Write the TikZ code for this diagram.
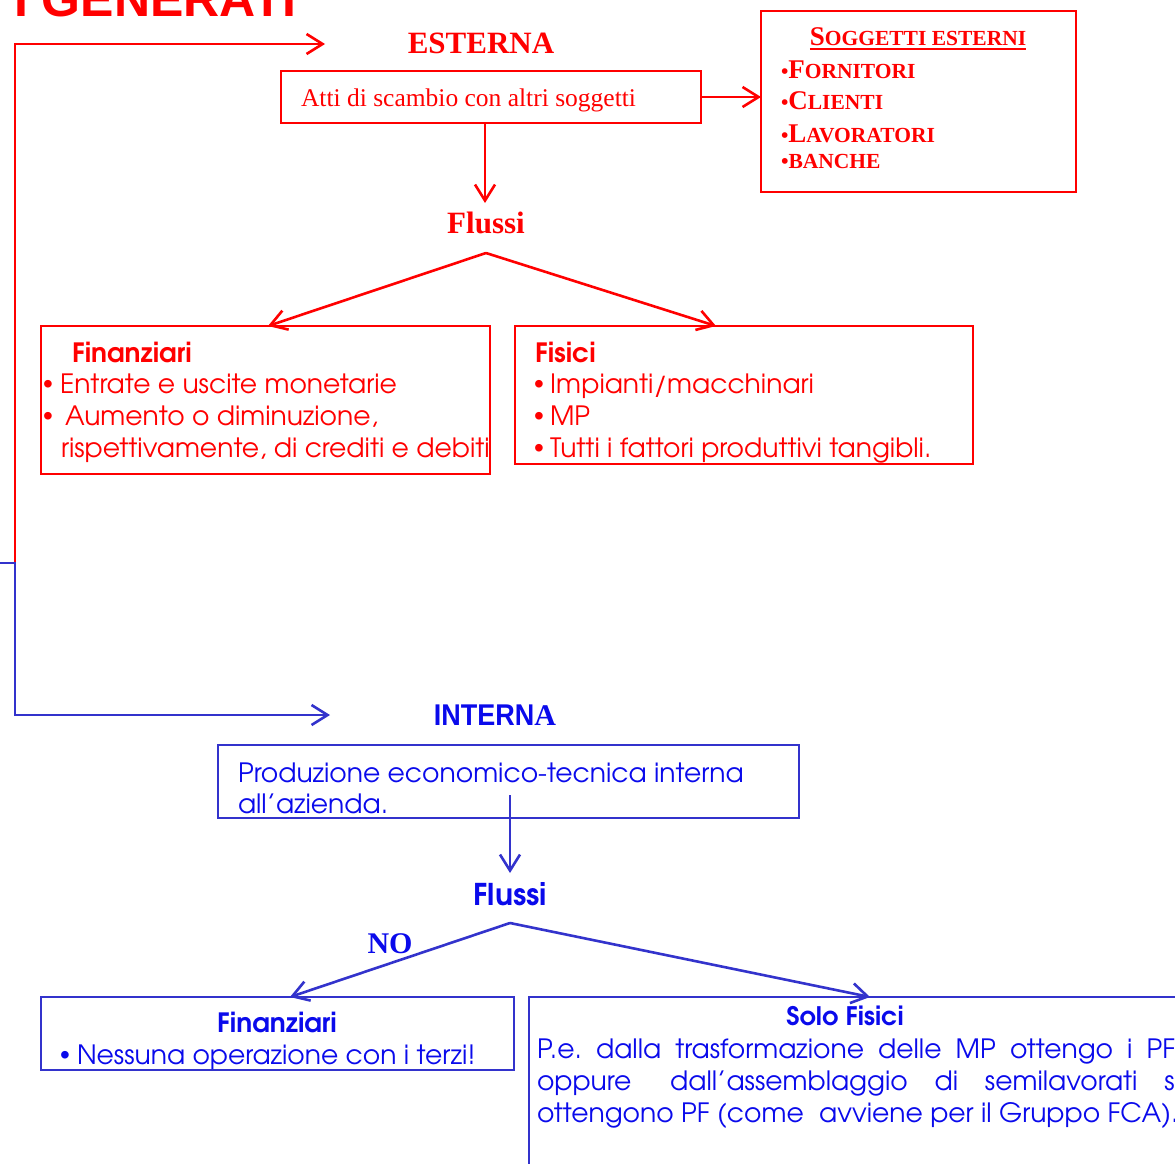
\documentclass[tikz,border=0pt]{standalone}
\usepackage{fontspec}
\setmainfont{Liberation Serif}
\newfontfamily\gothic{texgyreadventor}[Extension=.otf,UprightFont=*-regular,BoldFont=*-bold]
\newfontfamily\titlesans{Liberation Sans}
\usetikzlibrary{arrows.meta}
\definecolor{rosso}{RGB}{255,0,0}
\definecolor{bluline}{RGB}{51,51,204}
\definecolor{blutxt}{RGB}{10,10,235}
% small caps imitation: capital at 27, the rest at 21.5
\newcommand{\capsc}[2]{{\fontsize{27}{27}\selectfont #1}{\fontsize{21.5}{21.5}\selectfont #2}}
\newcommand{\gsize}{\fontsize{26.6}{32}\selectfont}
\newcommand{\blt}{{\titlesans\fontsize{28}{28}\selectfont •}}
\frenchspacing

\begin{document}
\begin{tikzpicture}[x=1pt,y=-1pt,
  every node/.style={inner sep=0pt, outer sep=0pt},
  rbox/.style={draw=rosso, line width=2.2pt, anchor=north west},
  bbox/.style={draw=bluline, line width=2.2pt, anchor=north west},
  rline/.style={draw=rosso, line width=2.6pt},
  bline/.style={draw=bluline, line width=2.6pt},
  rarr/.style={rline, -{Straight Barb[length=16pt,width=20pt,line width=2.6pt]}},
  barr/.style={bline, -{Straight Barb[length=16pt,width=20pt,line width=2.6pt]}},
  rserif/.style={text=rosso, font=\bfseries\fontsize{31}{31}\selectfont},
  rg/.style={text=rosso, font=\gothic\gsize, anchor=base west},
  bg/.style={text=blutxt, font=\gothic\gsize, anchor=base west},
  sog/.style={text=rosso, font=\bfseries, anchor=base west},
]
\useasboundingbox (0,0) rectangle (1175,1164);
\clip (0,0) rectangle (1175,1164);

% heading
\node[text=rosso, font=\titlesans\bfseries\fontsize{50}{50}\selectfont, anchor=base west] (title) at (14,17) {I GENERATI};

% ---------------- external side ----------------
\node[rserif, anchor=base] (esterna) at (481,53) {ESTERNA};
\node[rbox, minimum width=420pt, minimum height=52pt] (atti) at (281,71) {};
\node[text=rosso, font=\fontsize{25.5}{25.5}\selectfont, anchor=base west] (attit) at (301,106) {Atti di scambio con altri soggetti};

\node[rbox, minimum width=315pt, minimum height=181pt] (sogg) at (761,11) {};
\node[text=rosso, font=\bfseries, anchor=base] (soggt) at (918,46) {\capsc{S}{OGGETTI ESTERNI}};
\draw[rosso, line width=1.5pt] ([yshift=-3pt]soggt.base west) -- ([yshift=-3pt]soggt.base east);
\node[sog] (forn) at (781,78) {{\fontsize{21}{21}\selectfont •}\capsc{F}{ORNITORI}};
\node[sog] (clie) at (781,110) {{\fontsize{21}{21}\selectfont •}\capsc{C}{LIENTI}};
\node[sog] (lavo) at (781,142) {{\fontsize{21}{21}\selectfont •}\capsc{L}{AVORATORI}};
\node[sog] (banc) at (781,168) {\fontsize{21.5}{21.5}\selectfont •BANCHE};

\node[rserif, anchor=base] (flussiR) at (486,233) {Flussi};
\coordinate (flRin) at (485,203);
\coordinate (flRsplit) at (486,253);

\node[rbox, minimum width=449pt, minimum height=148pt] (finR) at (41,326) {};
\node[rbox, minimum width=458pt, minimum height=138pt] (fisR) at (515,326) {};

\node[rg] (finRh) at (72,362) {\bfseries Finanziari};
\node[rg] (finRb1) at (43,393) {\blt};
\node[rg] (finRl1) at (60,393) {Entrate e uscite monetarie};
\node[rg] (finRb2) at (43,425) {\blt};
\node[rg] (finRl2) at (65,425) {Aumento o diminuzione,};
\node[rg] (finRl3) at (61,457) {rispettivamente, di crediti e debiti};

\node[rg] (fisRh) at (535,362) {\bfseries Fisici};
\node[rg] (fisRb1) at (534,393) {\blt};
\node[rg] (fisRl1) at (550,393) {Impianti/macchinari};
\node[rg] (fisRb2) at (534,425) {\blt};
\node[rg] (fisRl2) at (550,425) {MP};
\node[rg] (fisRb3) at (534,457) {\blt};
\node[rg] (fisRl3) at (550,457) {Tutti i fattori produttivi tangibli.};

% connectors of the external side
\coordinate (junc) at (15,563);
\coordinate (esttip) at (325,44);
\draw[rarr] (junc) |- (esttip);
\draw[rarr] (atti.east) -- (sogg.west |- atti.east);
\draw[rarr] ([xshift=-6pt]atti.south) -- (flRin);
\draw[rarr] (flRsplit) -- ([xshift=2.5pt]finR.north);
\draw[rarr] (flRsplit) -- ([xshift=-28pt]fisR.north);

% ---------------- internal side ----------------
\node[text=blutxt, anchor=base] (interna) at (495,725) {{\titlesans\bfseries\fontsize{30}{30}\selectfont\scalebox{0.9}[1]{INTERN}}{\bfseries\fontsize{30}{30}\selectfont A}};
\node[bbox, minimum width=581pt, minimum height=73pt] (prod) at (218,745) {};
\node[bg] (prodl1) at (238,782) {Produzione economico-tecnica interna};
\node[bg] (prodl2) at (238,813) {all’azienda.};

\node[text=blutxt, font=\gothic\bfseries\fontsize{30}{30}\selectfont, anchor=base] (flussiB) at (510,905) {Flussi};
\coordinate (flBin) at (510,873);
\coordinate (flBsplit) at (510,923);
\node[text=blutxt, font=\bfseries\fontsize{30}{30}\selectfont, anchor=base] (no) at (390,953) {NO};

\node[bbox, minimum width=473pt, minimum height=73pt] (finB) at (41,997) {};
\node[bbox, minimum width=666pt, minimum height=190pt] (solo) at (529,997) {};

\node[bg, anchor=base] (finBh) at (277,1032) {\bfseries Finanziari};
\node[bg] (finBb) at (60,1064) {\blt};
\node[bg] (finBl) at (77,1064) {Nessuna operazione con i terzi!};

\node[bg, anchor=base, font=\gothic\bfseries\fontsize{25.5}{25.5}\selectfont] (soloh) at (845,1025) {Solo Fisici};
\node[bg] (solol1) at (537,1058) {\makebox[643pt][s]{P.e. dalla trasformazione delle MP ottengo i PF,}};
\node[bg] (solol2) at (537,1090) {\makebox[643pt][s]{oppure\hspace{12pt} dall’assemblaggio di semilavorati si}};
\node[bg] (solol3) at (537,1122) {ottengono PF (come\hspace{8pt} avviene per il Gruppo FCA).};

% connectors of the internal side
\coordinate (bstart) at (0,563);
\coordinate (inttip) at (330,715);
\draw[barr] (bstart) -- (junc) |- (inttip);
\draw[barr] ([xshift=1.5pt,yshift=-13.5pt]prod.center) -- (flBin);
\draw[barr] (flBsplit) -- ([xshift=12.5pt]finB.north);
\draw[barr] (flBsplit) -- ([xshift=8pt]solo.north);
\end{tikzpicture}
\end{document}
